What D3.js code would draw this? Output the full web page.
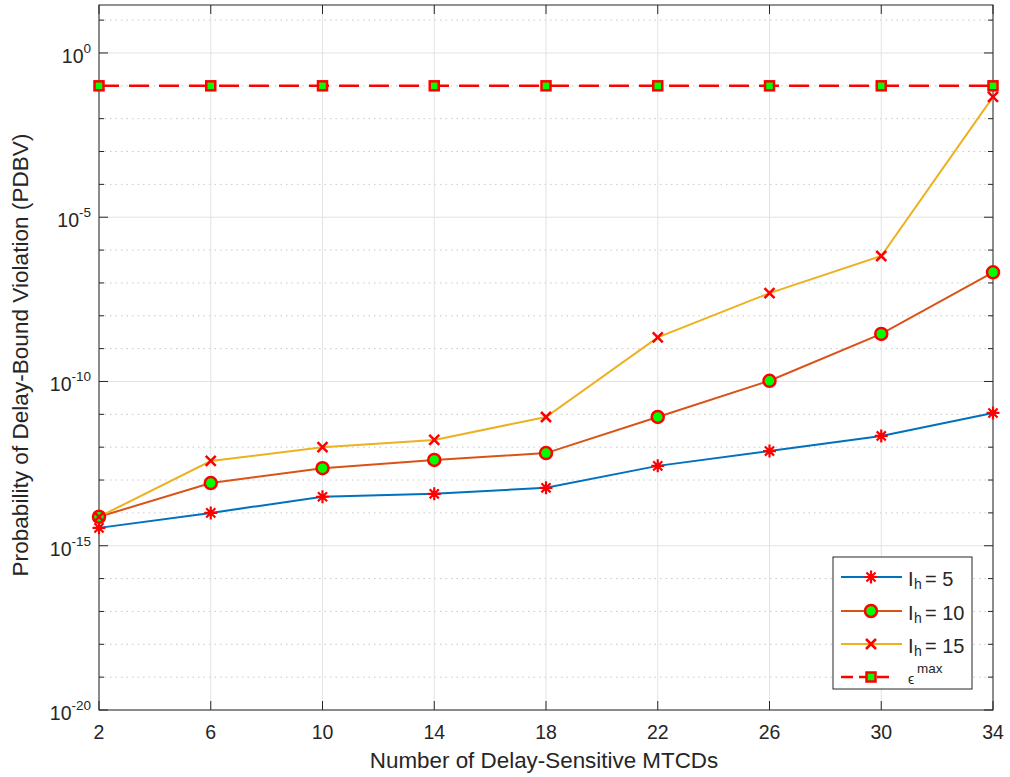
<!DOCTYPE html>
<meta charset="utf-8">
<style>
body { margin: 0; background: #fff; }
text { font-family: 'Liberation Sans', Arial, sans-serif; fill: #262626; }
</style>
<body>
<svg width="1010" height="777"></svg>
<script src="https://cdn.jsdelivr.net/npm/d3@7"></script>
<script>
// values
var nMTCD = [2, 6, 10, 14, 18, 22, 26, 30, 34];
var pdbvIh5  = [3.5e-15, 1.0e-14, 3.1e-14, 3.8e-14, 5.8e-14, 2.7e-13, 7.6e-13, 2.2e-12, 1.1e-11];
var pdbvIh10 = [7.6e-15, 8.1e-14, 2.3e-13, 4.1e-13, 6.6e-13, 8.3e-12, 1.05e-10, 2.8e-9, 2.1e-7];
var pdbvIh15 = [7.6e-15, 3.8e-13, 1.0e-12, 1.66e-12, 8.3e-12, 2.2e-9, 4.9e-8, 6.6e-7, 0.046];
var epsMax   = [0.1, 0.1, 0.1, 0.1, 0.1, 0.1, 0.1, 0.1, 0.1];
var xTicks = [2, 6, 10, 14, 18, 22, 26, 30, 34];
var yTickExp = [0, -5, -10, -15, -20];

var svg = d3.select("svg");
var pLeft = 99, pRight = 993, pTop = 5, pBottom = 710;

var x = d3.scaleLinear().domain([2, 34]).range([pLeft, pRight]);
var y = d3.scaleLog().domain([1e-20, Math.pow(10, 1.46)]).range([pBottom, pTop]);

//grid
var grid = svg.append("g");
var decades = d3.range(-20, 2);
decades.forEach(function(e) {
  var major = e % 5 === 0;
  grid.append("line")
    .attr("x1", pLeft).attr("x2", pRight)
    .attr("y1", y(Math.pow(10, e))).attr("y2", y(Math.pow(10, e)))
    .attr("stroke", major ? "#e3e3e3" : "#c8c8c8")
    .attr("stroke-width", 1)
    .attr("stroke-dasharray", major ? null : "1.5,4");
});
xTicks.forEach(function(t) {
  grid.append("line")
    .attr("x1", x(t)).attr("x2", x(t))
    .attr("y1", pTop).attr("y2", pBottom)
    .attr("stroke", "#e3e3e3");
});

//ticks, inside on all four sides
var ticks = svg.append("g").attr("stroke", "#262626");
decades.forEach(function(e) {
  var yy = y(Math.pow(10, e)), len = e % 5 === 0 ? 9 : 5;
  ticks.append("line").attr("x1", pLeft).attr("x2", pLeft + len).attr("y1", yy).attr("y2", yy);
  ticks.append("line").attr("x1", pRight).attr("x2", pRight - len).attr("y1", yy).attr("y2", yy);
});
xTicks.forEach(function(t) {
  ticks.append("line").attr("x1", x(t)).attr("x2", x(t)).attr("y1", pBottom).attr("y2", pBottom - 9);
  ticks.append("line").attr("x1", x(t)).attr("x2", x(t)).attr("y1", pTop).attr("y2", pTop + 9);
});

svg.append("rect")
  .attr("x", pLeft).attr("y", pTop)
  .attr("width", pRight - pLeft).attr("height", pBottom - pTop)
  .attr("fill", "none").attr("stroke", "#262626").attr("stroke-width", 1);

//tick labels
svg.append("g").selectAll("text")
  .data(xTicks).enter().append("text")
  .attr("x", function(d) { return x(d); })
  .attr("y", 739)
  .attr("text-anchor", "middle")
  .style("font-size", "19.5px")
  .text(function(d) { return d; });

var yl = svg.append("g").selectAll("text")
  .data(yTickExp).enter().append("text")
  .attr("x", 91)
  .attr("y", function(d) { return y(Math.pow(10, d)) + 10; })
  .attr("text-anchor", "end")
  .style("font-size", "19.5px");
yl.append("tspan").text("10");
yl.append("tspan").attr("dy", -10).style("font-size", "13.5px").text(function(d) { return d; });

//axis labels
svg.append("text")
  .attr("x", 544).attr("y", 768)
  .attr("text-anchor", "middle")
  .style("font-size", "22.4px")
  .text("Number of Delay-Sensitive MTCDs");

svg.append("text")
  .attr("transform", "translate(28," + 355 + ") rotate(-90)")
  .attr("text-anchor", "middle")
  .style("font-size", "22.6px")
  .text("Probability of Delay-Bound Violation (PDBV)");

//markers
function asterisk(g, s) {
  g.append("path")
    .attr("d", "M" + (-s) + ",0H" + s + "M0," + (-s) + "V" + s +
      "M" + (-s * .7) + "," + (-s * .7) + "L" + (s * .7) + "," + (s * .7) +
      "M" + (-s * .7) + "," + (s * .7) + "L" + (s * .7) + "," + (-s * .7))
    .attr("stroke", "red").attr("stroke-width", 2.2).attr("fill", "none");
}
function circ(g) {
  g.append("circle").attr("r", 6).attr("fill", "#00ff00").attr("stroke", "red").attr("stroke-width", 2.5);
}
function cross(g) {
  g.append("path").attr("d", "M-5,-5L5,5M-5,5L5,-5")
    .attr("stroke", "red").attr("stroke-width", 2.5).attr("fill", "none");
}
function square(g) {
  g.append("rect").attr("x", -4.5).attr("y", -4.5).attr("width", 9).attr("height", 9)
    .attr("fill", "#00ff00").attr("stroke", "red").attr("stroke-width", 2.5);
}

var series = [
  { vals: pdbvIh5,  color: "#0072BD", mark: function(g) { asterisk(g, 6.5); }, dash: null, name: "5" },
  { vals: pdbvIh10, color: "#D95319", mark: circ, dash: null, name: "10" },
  { vals: pdbvIh15, color: "#EDB120", mark: cross, dash: null, name: "15" },
  { vals: epsMax,   color: "#ff0000", mark: square, dash: "20,10", name: null }
];

var line = d3.line()
  .x(function(d, i) { return x(nMTCD[i]); })
  .y(function(d) { return y(d); });

series.forEach(function(s) {
  svg.append("path")
    .datum(s.vals)
    .attr("d", line)
    .attr("fill", "none")
    .attr("stroke", s.color)
    .attr("stroke-width", s.dash ? 2.5 : 2)
    .attr("stroke-dasharray", s.dash);
});
series.forEach(function(s) {
  s.vals.forEach(function(v, i) {
    var g = svg.append("g").attr("transform", "translate(" + x(nMTCD[i]) + "," + y(v) + ")");
    s.mark(g);
  });
});

//legend
var lg = svg.append("g");
lg.append("rect").attr("x", 833).attr("y", 557).attr("width", 139).attr("height", 132)
  .attr("fill", "#fff").attr("stroke", "#262626").attr("stroke-width", 1);
var rowY = [577, 611, 644, 677];
series.forEach(function(s, i) {
  var yy = rowY[i];
  lg.append("line").attr("x1", 841).attr("x2", s.dash ? 893 : 902)
    .attr("y1", yy).attr("y2", yy)
    .attr("stroke", s.color).attr("stroke-width", s.dash ? 2.5 : 2)
    .attr("stroke-dasharray", s.dash ? "12,6" : null);
  s.mark(lg.append("g").attr("transform", "translate(871," + yy + ")"));
  var t = lg.append("text").attr("x", 908).attr("y", yy + 9).style("font-size", "20px");
  if (s.name) {
    t.append("tspan").text("I");
    t.append("tspan").attr("x", 914).attr("dy", 3).style("font-size", "14px").text("h");
    t.append("tspan").attr("x", 925).attr("dy", -3).text("= " + s.name);
  } else {
    t.attr("y", yy + 7);
    t.append("tspan").style("font-size", "14px").text("\u03F5");
    t.append("tspan").attr("x", 917).attr("dy", -11).style("font-size", "13.5px").text("max");
  }
});
</script>
</body>
